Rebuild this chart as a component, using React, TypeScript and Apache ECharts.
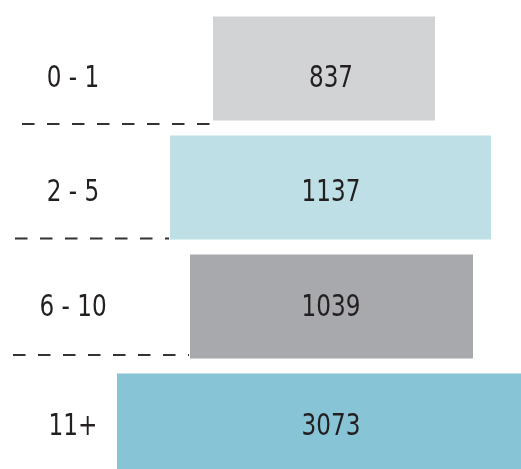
import React, { useEffect, useRef } from "react";
import * as echarts from "echarts";

const categories = ["0 - 1", "2 - 5", "6 - 10", "11+"];
const counts = [837, 1137, 1039, 3073];
const barStart = [213, 170, 190, 117];
const barLength = [222, 321, 283, 404];
const dashStart = [22, 15, 13];

const colors = ["#d1d3d4", "#bddfe5", "#a7a9ac", "#87c4d6"];
const textDy = [8.5, 3.5, -0.5, -0.5];
const dashDy = [55.5, 51, 48.5];
const LABEL_X = 331;
const CAT_X = 73;
const FONT = "'DejaVu Sans Condensed', 'DejaVu Sans', sans-serif";
const FONT_SIZE = 31;
const SCALE_X = 0.83;
const TEXT_COLOR = "#231f20";

export default function App() {
  const ref = useRef<HTMLDivElement>(null);
  useEffect(() => {
    if (!ref.current) return;
    const chart = echarts.init(ref.current, undefined, { renderer: "svg" });
    const textStyle = (text: string) => ({
      text,
      fontFamily: FONT,
      fontSize: FONT_SIZE,
      fill: TEXT_COLOR,
      align: "center",
      verticalAlign: "middle",
    });
    chart.setOption({
      animation: false,
      grid: { left: 0, right: 0, top: 9, height: 476 },
      xAxis: { type: "value", min: 0, max: 521, show: false },
      yAxis: {
        type: "category",
        data: categories,
        inverse: true,
        show: false,
      },
      series: [
        {
          type: "bar",
          stack: "a",
          barWidth: 104,
          silent: true,
          z: 1,
          itemStyle: { color: "transparent" },
          data: barStart,
        },
        {
          type: "bar",
          stack: "a",
          barWidth: 104,
          z: 1,
          data: barLength.map((v, i) => ({
            value: v,
            itemStyle: { color: colors[i] },
          })),
        },
        {
          type: "custom",
          z: 5,
          data: dashStart.map((s, i) => [s, barStart[i], i]),
          encode: { x: [0, 1], y: 2 },
          renderItem: (params: any, api: any) => {
            const i = params.dataIndex;
            const p0 = api.coord([api.value(0), api.value(2)]);
            const p1 = api.coord([api.value(1), api.value(2)]);
            const y = p0[1] + dashDy[i];
            return {
              type: "line",
              shape: { x1: p0[0], y1: y, x2: p1[0] - 1, y2: y },
              style: { stroke: "#333333", lineWidth: 2, lineDash: [12.5, 12.5] },
            };
          },
        },
        {
          type: "custom",
          z: 10,
          clip: false,
          data: counts.map((c, i) => [LABEL_X, i, c]),
          encode: { x: 0, y: 1 },
          renderItem: (params: any, api: any) => {
            const i = params.dataIndex;
            const pc = api.coord([api.value(0), i]);
            const y = pc[1] + textDy[i];
            return {
              type: "group",
              children: [
                {
                  type: "text",
                  x: CAT_X,
                  y,
                  scaleX: SCALE_X,
                  z2: 100,
                  style: textStyle(categories[i]),
                },
                {
                  type: "text",
                  x: pc[0],
                  y,
                  scaleX: SCALE_X,
                  z2: 100,
                  style: textStyle(String(counts[i])),
                },
              ],
            };
          },
        },
      ],
    });
    return () => chart.dispose();
  }, []);
  return (
    <div
      style={{
        position: "fixed",
        left: 0,
        top: 0,
        width: 521,
        height: 469,
        overflow: "hidden",
      }}
    >
      <div ref={ref} style={{ width: 521, height: 500 }} />
    </div>
  );
}
